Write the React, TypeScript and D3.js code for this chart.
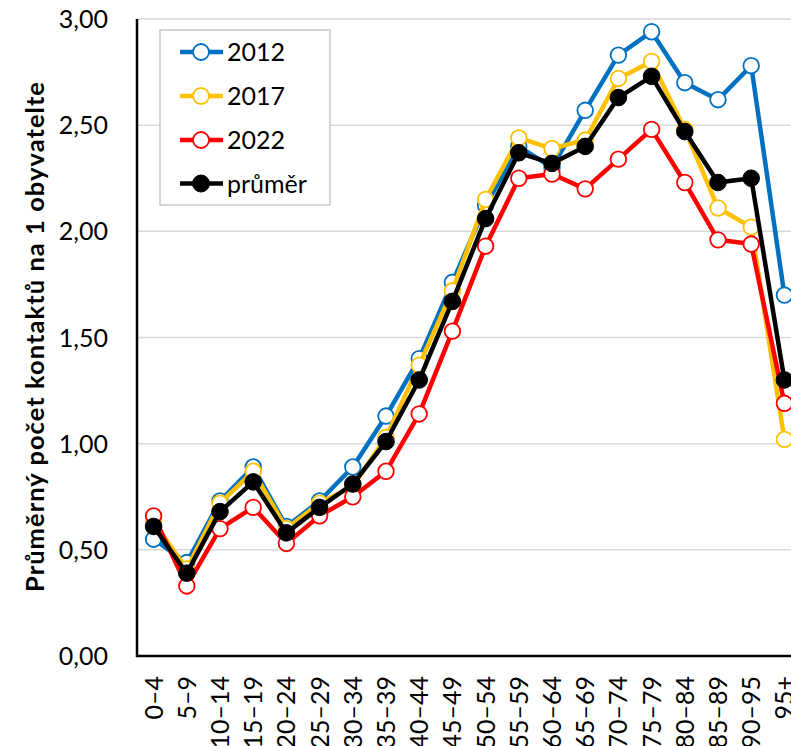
import React from "react";
import * as d3 from "d3";

// Age groups on the horizontal axis
const categories = [
  "0–4", "5–9", "10–14", "15–19", "20–24", "25–29", "30–34", "35–39", "40–44", "45–49",
  "50–54", "55–59", "60–64", "65–69", "70–74", "75–79", "80–84", "85–89", "90–95", "95+",
];

// Average number of contacts per inhabitant, by year
const values2012 = [0.55, 0.44, 0.73, 0.89, 0.61, 0.73, 0.89, 1.13, 1.40, 1.76, 2.12, 2.40, 2.30, 2.57, 2.83, 2.94, 2.70, 2.62, 2.78, 1.70];
const values2017 = [0.63, 0.41, 0.72, 0.87, 0.60, 0.72, 0.80, 1.03, 1.37, 1.72, 2.15, 2.44, 2.39, 2.43, 2.72, 2.80, 2.48, 2.11, 2.02, 1.02];
const values2022 = [0.66, 0.33, 0.60, 0.70, 0.53, 0.66, 0.75, 0.87, 1.14, 1.53, 1.93, 2.25, 2.27, 2.20, 2.34, 2.48, 2.23, 1.96, 1.94, 1.19];
const valuesMean = [0.61, 0.39, 0.68, 0.82, 0.58, 0.70, 0.81, 1.01, 1.30, 1.67, 2.06, 2.37, 2.32, 2.40, 2.63, 2.73, 2.47, 2.23, 2.25, 1.30];

const yTicks = [0, 0.5, 1, 1.5, 2, 2.5, 3];
const seriesNames = ["2012", "2017", "2022", "průměr"];
const yTitle = "Průměrný počet kontaktů na 1 obyvatelte";

const seriesStyle = [
  { color: "#0070C0", filled: false },
  { color: "#FFC000", filled: false },
  { color: "#FF0000", filled: false },
  { color: "#000000", filled: true },
];

const W = 791;
const H = 746;
const FONT = "Lato, 'Open Sans', sans-serif";

export default function App() {
  const plotLeft = 137;
  const plotTop = 19;
  const plotBottom = 656;
  const bandW = 33.2;

  const x = d3
    .scaleBand<string>()
    .domain(categories)
    .range([plotLeft, plotLeft + bandW * categories.length])
    .paddingInner(0)
    .paddingOuter(0);
  const y = d3.scaleLinear().domain([0, 3]).range([plotBottom, plotTop]);
  const cx = (c: string) => (x(c) ?? 0) + x.bandwidth() / 2;

  const fmt = (v: number) => v.toFixed(2).replace(".", ",");

  const line = d3
    .line<number>()
    .x((_, i) => cx(categories[i]))
    .y((v) => y(v));

  const allSeries = [values2012, values2017, values2022, valuesMean];

  const legend = { x: 160, y: 30, w: 170, h: 175, rowY: [52, 96, 140, 183.5] };

  return (
    <svg
      width={W}
      height={H}
      style={{ position: "fixed", left: 0, top: 0, display: "block", background: "#fff" }}
    >
      <rect x={0} y={0} width={W} height={H} fill="#fff" />

      {/* horizontal gridlines */}
      {yTicks.slice(1).map((t) => (
        <line key={t} x1={plotLeft} x2={W} y1={y(t)} y2={y(t)} stroke="#d9d9d9" strokeWidth={1.5} />
      ))}

      {/* y tick labels */}
      {yTicks.map((t) => (
        <text
          key={t}
          x={108}
          y={y(t)}
          dy="0.36em"
          textAnchor="end"
          fontFamily={FONT}
          fontSize={25}
          fill="#000"
        >
          {fmt(t)}
        </text>
      ))}

      {/* y axis title */}
      <text
        transform={`translate(44, ${(82 + 592) / 2}) rotate(-90)`}
        textAnchor="middle"
        fontFamily={FONT}
        fontWeight="bold"
        fontSize={25.5}
        textLength={510}
        lengthAdjust="spacing"
        fill="#000"
      >
        {yTitle}
      </text>

      {/* x tick labels */}
      {categories.map((c) => (
        <text
          key={c}
          transform={`translate(${cx(c)}, 676) rotate(-90)`}
          textAnchor="end"
          dy="0.36em"
          fontFamily={FONT}
          fontSize={25}
          fill="#000"
        >
          {c}
        </text>
      ))}

      {/* series */}
      {allSeries.map((vals, si) => {
        const st = seriesStyle[si];
        return (
          <g key={si}>
            <path
              d={line(vals) ?? ""}
              fill="none"
              stroke={st.color}
              strokeWidth={4.5}
              strokeLinejoin="round"
            />
            {vals.map((v, i) => (
              <circle
                key={i}
                cx={cx(categories[i])}
                cy={y(v)}
                r={st.filled ? 8.3 : 7.8}
                fill={st.filled ? st.color : "#fff"}
                stroke={st.color}
                strokeWidth={st.filled ? 1 : 1.8}
              />
            ))}
          </g>
        );
      })}

      {/* axes */}
      <line x1={plotLeft} x2={plotLeft} y1={plotTop} y2={plotBottom + 1} stroke="#000" strokeWidth={2.5} />
      <line x1={plotLeft - 1} x2={W} y1={plotBottom} y2={plotBottom} stroke="#000" strokeWidth={2.5} />

      {/* legend */}
      <rect
        x={legend.x}
        y={legend.y}
        width={legend.w}
        height={legend.h}
        fill="#fff"
        stroke="#c8c8c8"
        strokeWidth={1.5}
      />
      {seriesNames.map((name, i) => {
        const st = seriesStyle[i];
        const ry = legend.rowY[i];
        return (
          <g key={name}>
            <line x1={180} x2={223} y1={ry} y2={ry} stroke={st.color} strokeWidth={4.5} />
            <circle
              cx={201}
              cy={ry}
              r={st.filled ? 8.5 : 8}
              fill={st.filled ? st.color : "#fff"}
              stroke={st.color}
              strokeWidth={st.filled ? 1 : 1.8}
            />
            <text x={227} y={ry} dy="0.36em" fontFamily={FONT} fontSize={25} fill="#000">
              {name}
            </text>
          </g>
        );
      })}
    </svg>
  );
}
